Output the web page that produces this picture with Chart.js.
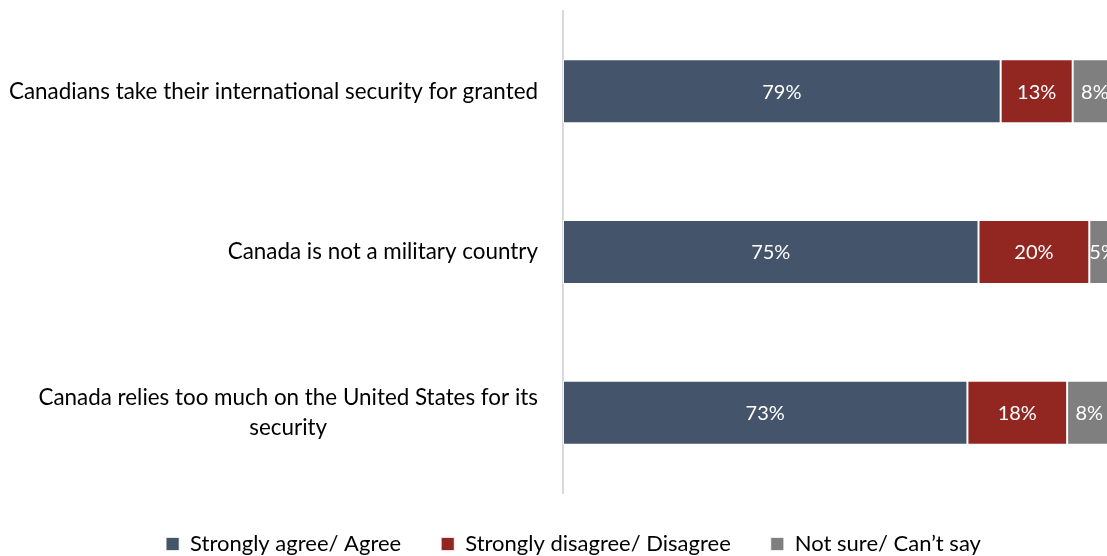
<!DOCTYPE html>
<html>
<head>
<meta charset="utf-8">
<script src="https://cdn.jsdelivr.net/npm/chart.js@4"></script>
<style>
  html, body { margin: 0; padding: 0; background: #fff; overflow: hidden; }
  #wrap { width: 1107px; height: 556px; overflow: hidden; position: relative; }
  canvas { display: block; }
</style>
</head>
<body>
<div id="wrap"><canvas id="c" width="1125" height="556" style="width:1125px;height:556px"></canvas></div>
<script>
const categories = [
  ["Canadians take their international security for granted"],
  ["Canada is not a military country"],
  ["Canada relies too much on the United States for its", "security"]
];
const seriesNames = ["Strongly agree/ Agree", "Strongly disagree/ Disagree", "Not sure/ Can\u2019t say"];
const agree = [79, 75, 73];
const disagree = [13, 20, 18];
const notSure = [8, 5, 8];
const colors = ["#44546A", "#922722", "#7F7F7F"];

const FONT = "Lato";

const labelPlugin = {
  id: 'segLabels',
  afterDatasetsDraw(chart) {
    const ctx = chart.ctx;
    ctx.save();
    ctx.fillStyle = '#fff';
    ctx.font = '20px ' + FONT;
    ctx.textAlign = 'center';
    ctx.textBaseline = 'middle';
    chart.data.datasets.forEach((ds, di) => {
      chart.getDatasetMeta(di).data.forEach((bar, i) => {
        const p = bar.getProps(['x', 'base', 'y'], true);
        ctx.fillText(ds.data[i] + '%', (p.x + p.base) / 2, p.y + 1);
      });
    });
    ctx.restore();
  }
};

const catLabelPlugin = {
  id: 'catLabels',
  afterDraw(chart) {
    const ctx = chart.ctx;
    const ys = chart.scales.y;
    ctx.save();
    ctx.fillStyle = '#000';
    ctx.font = '22.4px ' + FONT;
    ctx.textBaseline = 'middle';
    ctx.textAlign = 'center';
    const rightX = 538;
    const lh = 30;
    categories.forEach((lines, i) => {
      const yc = ys.getPixelForTick(i);
      const widest = Math.max(...lines.map(l => ctx.measureText(l).width));
      const cx = rightX - widest / 2;
      const y0 = yc - (lines.length - 1) * lh / 2;
      lines.forEach((l, k) => ctx.fillText(l, cx, y0 + k * lh));
    });
    ctx.restore();
  }
};

new Chart(document.getElementById('c'), {
  type: 'bar',
  data: {
    labels: categories,
    datasets: [
      { label: seriesNames[0], data: agree, backgroundColor: colors[0] },
      { label: seriesNames[1], data: disagree, backgroundColor: colors[1] },
      { label: seriesNames[2], data: notSure, backgroundColor: colors[2] }
    ]
  },
  options: {
    indexAxis: 'y',
    responsive: false,
    animation: false,
    devicePixelRatio: 1,
    datasets: {
      bar: {
        barPercentage: 0.398,
        categoryPercentage: 1,
        borderColor: 'rgba(255,255,255,0.7)',
        borderWidth: 1,
        borderSkipped: false
      }
    },
    layout: { padding: { top: 11, right: 8, bottom: -9, left: 30 } },
    scales: {
      x: {
        stacked: true, min: 0, max: 100, display: false
      },
      y: {
        stacked: true,
        grid: { display: false, drawTicks: false },
        border: { display: true, color: '#D9D9D9', width: 2 },
        ticks: { display: false },
        afterFit(scale) { scale.width = 533; }
      }
    },
    plugins: {
      legend: {
        position: 'bottom',
        labels: {
          font: { family: FONT, size: 22 },
          color: '#000',
          boxWidth: 13,
          boxHeight: 13,
          padding: 40
        }
      },
      tooltip: { enabled: false }
    }
  },
  plugins: [labelPlugin, catLabelPlugin]
});
</script>
</body>
</html>
